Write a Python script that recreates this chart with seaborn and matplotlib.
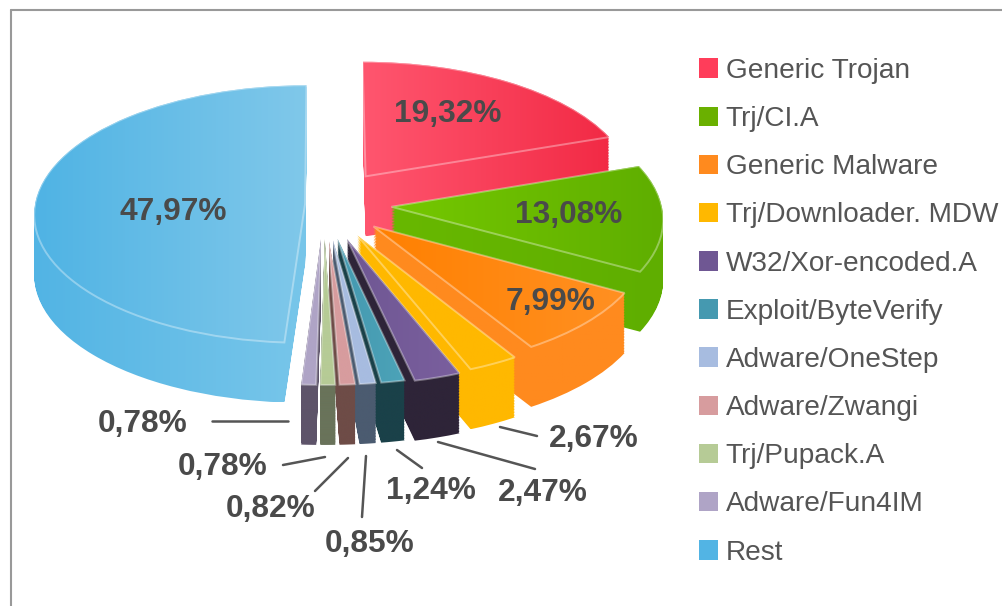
import numpy as np
import matplotlib
matplotlib.use('Agg')
import matplotlib.pyplot as plt
import seaborn as sns
from matplotlib.colors import to_rgb
from matplotlib.lines import Line2D
from matplotlib.patches import PathPatch, Rectangle
from matplotlib.path import Path

names = ['Generic Trojan', 'Trj/CI.A', 'Generic Malware', 'Trj/Downloader. MDW', 'W32/Xor-encoded.A',
         'Exploit/ByteVerify', 'Adware/OneStep', 'Adware/Zwangi', 'Trj/Pupack.A', 'Adware/Fun4IM', 'Rest']
values = [19.32, 13.08, 7.99, 2.67, 2.47, 1.24, 0.85, 0.82, 0.78, 0.78, 47.97]

# styling, per slice
explode = [0.27, 0.25, 0.25, 0.27, 0.28, 0.27, 0.27, 0.27, 0.27, 0.27, 0.07]
legend_colors = ['#FF3D5A', '#6AB000', '#FF8A1E', '#FFB800', '#6F5793', '#4599B0',
                 '#A7BCE0', '#D79C9E', '#B6CB96', '#AFA4C6', '#52B4E4']
top_left = ['#FF566F', '#75C800', '#FF8000', '#FFB800', '#6F5793', '#4599B0',
            '#A7BCE0', '#D79C9E', '#B6CB96', '#AFA4C6', '#4FB3E4']
top_right = ['#F22A45', '#5FAE00', '#FF9022', '#FFB800', '#7A5F9E', '#4CA3B8',
             '#A7BCE0', '#D79C9E', '#B6CB96', '#AFA4C6', '#80C8EA']
side_left = ['#FF566F', '#68B800', '#FF8A1E', '#FFB800', '#2E2438', '#1A4149',
             '#4B5B70', '#6E4C47', '#69735A', '#5E546A', '#52B4E4']
side_right = ['#F22A45', '#5FAE00', '#FF8A1E', '#FFB800', '#2E2438', '#1A4149',
              '#4B5B70', '#6E4C47', '#69735A', '#5E546A', '#78C6EA']
draw_order = [10, 0, 1, 2, 3, 4, 5, 6, 7, 8, 9]

# label centres and leader lines, in picture pixels
inner_labels = {0: (448, 114), 1: (569, 215), 2: (551, 302), 10: (173, 212)}
outer_labels = {3: (594, 439), 4: (543, 493), 5: (431, 491), 6: (370, 544), 7: (271, 509), 8: (223, 467), 9: (143, 424)}
leaders = {3: ((500, 427), (537, 436)), 4: ((438, 442), (535, 469)), 5: ((397, 450), (422, 468)),
           6: ((366, 456), (362, 517)), 7: ((348, 458), (315, 491)), 8: ((325, 457), (283, 465)),
           9: ((288, 421), (212, 421))}

W, H = 1002, 606
CX, CY = 324, 204
RX, RY = 270, 128
PERSP = 0.08
DEPTH = 60 / RY
TEXT = '#4a4a4a'


def project(path):
    """ flat pie plane -> slightly tilted view, back of the pie gets smaller """
    v = path.vertices.copy()
    w = 1 + PERSP * v[:, 1]
    return Path(np.column_stack([v[:, 0] / w, v[:, 1] / w]), path.codes)


def gradient(ax, clip, left, right, z):
    box = clip.get_extents()
    cols = np.linspace(to_rgb(left), to_rgb(right), 256)[np.newaxis, :, :]
    im = ax.imshow(cols, extent=[box.x0, box.x1, box.y0, box.y1], aspect='auto', zorder=z, interpolation='bilinear')
    im.set_clip_path(clip, ax.transData)


def px(x, y):
    return x / W, 1 - y / H


sns.set_theme(style='white')
plt.rcParams['font.family'] = ['Liberation Sans', 'DejaVu Sans']

fig = plt.figure(figsize=(W / 100, H / 100), dpi=100)
ax = fig.add_axes([0, 0, 1, 1])
wedges, _ = ax.pie(values, explode=explode, startangle=90, counterclock=False)

for z, i in enumerate(draw_order):
    wedge = wedges[i]
    top = project(wedge.get_patch_transform().transform_path(wedge.get_path()))
    wedge.set_visible(False)
    # the side is the top pushed down step by step
    layers = []
    for shift in np.linspace(0, DEPTH, 40):
        layers.append(Path(top.vertices - [0, shift], top.codes))
    gradient(ax, Path.make_compound_path(*layers), side_left[i], side_right[i], 10 + 3 * z)
    gradient(ax, top, top_left[i], top_right[i], 11 + 3 * z)
    ax.add_patch(PathPatch(top, fc='none', ec='white', alpha=0.35, lw=1.4, zorder=12 + 3 * z))

ax.set_aspect('auto')
ax.set_xlim(-CX / RX, (W - CX) / RX)
ax.set_ylim((CY - H) / RY, CY / RY)
ax.axis('off')

labels = ['%.2f%%' % v for v in values]
labels = [s.replace('.', ',') for s in labels]
for i, pos in {**inner_labels, **outer_labels}.items():
    x, y = px(*pos)
    ax.text(x, y, labels[i], transform=ax.transAxes, ha='center', va='center', fontsize=22.8,
            fontweight='bold', color=TEXT, zorder=100)
for a, b in leaders.values():
    xa, ya = px(*a)
    xb, yb = px(*b)
    ax.plot([xa, xb], [ya, yb], transform=ax.transAxes, color='#555555', lw=1.8, zorder=90)

handles = [Rectangle((0, 0), 1, 1, fc=c, ec='none') for c in legend_colors]
lx, ly = px(699, 58)
leg = ax.legend(handles, names, loc='upper left', bbox_to_anchor=(lx, ly), bbox_transform=ax.transAxes,
                frameon=False, fontsize=20.2, handlelength=0.69, handleheight=0.69, handletextpad=0.26,
                labelspacing=0.79, borderpad=0, borderaxespad=0, labelcolor='#555555')
leg.set_zorder(100)

# grey frame of the original box, open at right and bottom
fig.add_artist(Line2D([11 / W, 11 / W], [0, 1 - 10 / H], color='#999999', lw=1.5))
fig.add_artist(Line2D([11 / W, 1], [1 - 10 / H, 1 - 10 / H], color='#999999', lw=1.5))

fig.savefig('out.png', dpi=100, facecolor='white')
